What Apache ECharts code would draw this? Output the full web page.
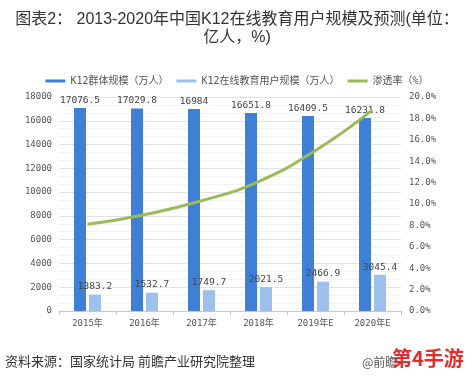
<!DOCTYPE html>
<html><head><meta charset="utf-8">
<script src="https://cdn.jsdelivr.net/npm/echarts@6/dist/echarts.min.js"></script>
<style>html,body{margin:0;padding:0;background:#fff}#c{width:474px;height:382px}</style>
</head><body><div id="c"></div>
<script>
var categories = ['2015年', '2016年', '2017年', '2018年', '2019年E', '2020年E'];
var k12Population = [17076.5, 17029.8, 16984, 16651.8, 16409.5, 16231.8];
var k12Online = [1383.2, 1532.7, 1749.7, 2021.5, 2466.9, 3045.4];
var penetration = [8.1, 9.0, 10.3, 12.1, 15.0, 18.8];
var seriesNames = ['K12群体规模（万人）', 'K12在线教育用户规模（万人）', '渗透率（%）'];

var mono = '"DejaVu Sans Mono", "Noto Sans CJK SC", monospace';
var chart = echarts.init(document.getElementById('c'), null, {renderer: 'canvas'});
chart.setOption({
  backgroundColor: '#fff',
  animation: false,
  title: [
    {text: '图表2： 2013-2020年中国K12在线教育用户规模及预测(单位：', left: 'center', top: 7,
     textStyle: {fontSize: 16, fontWeight: 'normal', color: '#333', fontFamily: '"Liberation Sans", "Noto Sans CJK SC", sans-serif'}},
    {text: '亿人，%)', left: 'center', top: 25,
     textStyle: {fontSize: 16, fontWeight: 'normal', color: '#333', fontFamily: '"Liberation Sans", "Noto Sans CJK SC", sans-serif'}}
  ],
  legend: {
    top: 71, left: 'center', itemWidth: 20, itemHeight: 3, itemGap: 8, icon: 'rect',
    textStyle: {fontSize: 10, color: '#555', fontFamily: mono},
    data: seriesNames
  },
  grid: {left: 59, right: 73, top: 97, bottom: 71},
  xAxis: {
    type: 'category', data: categories,
    axisLine: {lineStyle: {color: '#c8c8c8'}},
    axisTick: {show: true, length: 4, lineStyle: {color: '#c8c8c8'}},
    axisLabel: {fontSize: 9, color: '#555', fontFamily: mono, margin: 8}
  },
  yAxis: [
    {type: 'value', min: 0, max: 18000, interval: 2000,
     axisLine: {show: false}, axisTick: {show: false},
     axisLabel: {fontSize: 9, color: '#555', fontFamily: mono, margin: 7,
       formatter: function (v) { return String(v); }},
     splitLine: {lineStyle: {color: '#e2e2e2'}},
     minorTick: {show: false, splitNumber: 3},
     minorSplitLine: {show: true, lineStyle: {color: '#f3f3f3'}}},
    {type: 'value', min: 0, max: 20, interval: 2,
     axisLine: {show: false}, axisTick: {show: false}, splitLine: {show: false},
     axisLabel: {fontSize: 9, color: '#555', fontFamily: mono, margin: 8,
       formatter: function (v) { return v.toFixed(1) + '%'; }}}
  ],
  series: [
    {name: seriesNames[0], type: 'bar', data: k12Population, barWidth: 12, barGap: '25%',
     itemStyle: {color: '#3f7fd5'},
     label: {show: true, position: 'top', distance: 3, fontSize: 9.5, color: '#444', fontFamily: mono}},
    {name: seriesNames[1], type: 'bar', data: k12Online, barWidth: 12,
     itemStyle: {color: '#9dc1ec'},
     label: {show: true, position: 'top', distance: 3, fontSize: 9.5, color: '#444', fontFamily: mono}},
    {name: seriesNames[2], type: 'line', yAxisIndex: 1, data: penetration, smooth: true,
     showSymbol: false, symbol: 'none', lineStyle: {width: 3, color: '#9bbb59'}, itemStyle: {color: '#9bbb59'}}
  ],
  graphic: [
    {type: 'text', left: 5, top: 355, style: {text: '资料来源：国家统计局 前瞻产业研究院整理', fontSize: 13, fill: '#333', fontFamily: '"Noto Sans CJK SC", sans-serif'}},
    {type: 'text', left: 362, top: 356, style: {text: '@前瞻', fontSize: 12, fill: '#555', fontFamily: '"Noto Sans CJK SC", sans-serif'}},
    {type: 'text', left: 392, top: 348, style: {text: '第4手游', fontSize: 20, fontWeight: 'bold', fill: '#e42a2a', fontFamily: '"Noto Sans CJK SC", sans-serif'}}
  ]
});
</script></body></html>
